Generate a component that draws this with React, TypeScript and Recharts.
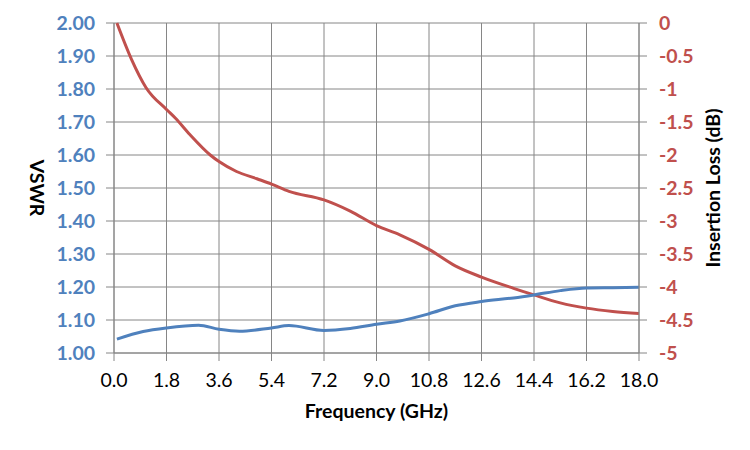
import { LineChart, Line, XAxis, YAxis, CartesianGrid, Label } from 'recharts';

// VSWR readings (left axis)
const vswrFreq = [0.1, 1.0, 1.8, 2.9, 3.6, 4.3, 5.4, 6.0, 7.2, 8.1, 9.0, 9.8, 10.8, 11.7, 12.6, 13.7, 14.4, 15.3, 16.2, 17.1, 18.0];
const vswr = [1.042, 1.065, 1.076, 1.084, 1.072, 1.066, 1.076, 1.083, 1.068, 1.074, 1.087, 1.097, 1.119, 1.143, 1.156, 1.167, 1.176, 1.189, 1.197, 1.198, 1.199];

// Insertion loss readings (right axis)
const ilFreq = [0.1, 0.6, 1.1, 1.8, 2.1, 2.6, 3.3, 3.6, 4.2, 4.9, 5.4, 6.0, 7.2, 8.1, 9.0, 9.8, 10.8, 11.7, 12.6, 13.7, 14.4, 15.3, 16.2, 17.1, 18.0];
const insertionLoss = [0, -0.55, -0.98, -1.31, -1.44, -1.69, -2.0, -2.1, -2.25, -2.36, -2.44, -2.55, -2.68, -2.85, -3.07, -3.21, -3.43, -3.68, -3.85, -4.02, -4.12, -4.24, -4.32, -4.37, -4.4];

const freqTicks = [0, 1.8, 3.6, 5.4, 7.2, 9.0, 10.8, 12.6, 14.4, 16.2, 18.0];
const vswrTicks = [1.0, 1.1, 1.2, 1.3, 1.4, 1.5, 1.6, 1.7, 1.8, 1.9, 2.0];
const ilTicks = [0, -0.5, -1, -1.5, -2, -2.5, -3, -3.5, -4, -4.5, -5];

const vswrData = vswrFreq.map((f, i) => ({ f, v: vswr[i] }));
const ilData = ilFreq.map((f, i) => ({ f, il: insertionLoss[i] }));

const BLUE = '#4F81BD';
const RED = '#C0504D';
const GRID = '#868686';
const FONT = 'Lato, "Open Sans", sans-serif';
const FS = 19.5;

const VswrTitle = (props: any) => {
  const { viewBox } = props;
  const x = viewBox.x + 29;
  const y = viewBox.y + viewBox.height / 2;
  return (
    <text x={x} y={y} transform={`rotate(90 ${x} ${y})`} textAnchor="middle" dominantBaseline="central"
      fontFamily={FONT} fontSize={FS} fontWeight="bold" fill="#000">VSWR</text>
  );
};

const IlTitle = (props: any) => {
  const { viewBox } = props;
  const x = viewBox.x + 73;
  const y = viewBox.y + viewBox.height / 2;
  return (
    <text x={x} y={y} transform={`rotate(-90 ${x} ${y})`} textAnchor="middle" dominantBaseline="central"
      fontFamily={FONT} fontSize={FS} fontWeight="bold" fill="#000">Insertion Loss (dB)</text>
  );
};

const FreqTitle = (props: any) => {
  const { viewBox } = props;
  const x = viewBox.x + viewBox.width / 2;
  const y = viewBox.y + 57;
  return (
    <text x={x} y={y} textAnchor="middle" dominantBaseline="central"
      fontFamily={FONT} fontSize={FS} fontWeight="bold" fill="#000">Frequency (GHz)</text>
  );
};

export default function App() {
  return (
    <div style={{ width: 742, height: 434, background: '#fff' }}>
      <LineChart width={742} height={434} margin={{ top: 15, right: 1, left: 0, bottom: 29 }}>
        <CartesianGrid stroke={GRID} strokeWidth={1} yAxisId="vswr" />
        <XAxis
          dataKey="f"
          type="number"
          domain={[0, 18]}
          ticks={freqTicks}
          tickFormatter={(v: number) => v.toFixed(1)}
          allowDuplicatedCategory={false}
          height={60}
          stroke={GRID}
          tickSize={8}
          tickMargin={12}
          tick={{ fill: '#000', fontFamily: FONT, fontSize: FS }}
        >
          <Label content={FreqTitle} />
        </XAxis>
        <YAxis
          yAxisId="vswr"
          orientation="left"
          domain={[1, 2]}
          ticks={vswrTicks}
          tickFormatter={(v: number) => v.toFixed(2)}
          width={106}
          stroke={GRID}
          tickSize={8}
          tickMargin={11}
          interval={0}
          tick={{ fill: BLUE, fontFamily: FONT, fontSize: FS, fontWeight: 'bold' }}
        >
          <Label content={VswrTitle} />
        </YAxis>
        <YAxis
          yAxisId="il"
          orientation="right"
          domain={[-5, 0]}
          ticks={ilTicks}
          tickFormatter={(v: number) => String(v)}
          width={110}
          stroke={GRID}
          tickSize={8}
          tickMargin={12}
          interval={0}
          tick={{ fill: RED, fontFamily: FONT, fontSize: FS, fontWeight: 'bold' }}
        >
          <Label content={IlTitle} />
        </YAxis>
        <Line
          yAxisId="il"
          data={ilData}
          dataKey="il"
          type="monotone"
          stroke={RED}
          strokeWidth={3}
          dot={false}
          isAnimationActive={false}
        />
        <Line
          yAxisId="vswr"
          data={vswrData}
          dataKey="v"
          type="monotone"
          stroke={BLUE}
          strokeWidth={3}
          dot={false}
          isAnimationActive={false}
        />
      </LineChart>
    </div>
  );
}
